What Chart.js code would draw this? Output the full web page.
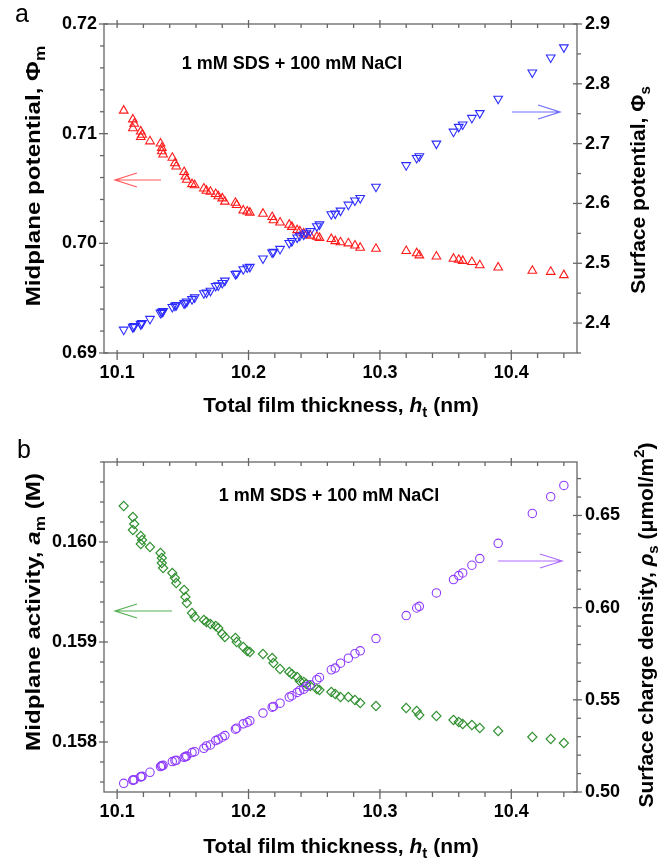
<!DOCTYPE html>
<html>
<head>
<meta charset="utf-8">
<script src="https://cdn.jsdelivr.net/npm/chart.js@4/dist/chart.umd.min.js"></script>
<style>
  body { margin: 0; background: #fff; }
  canvas { position: absolute; left: 0; }
</style>
</head>
<body>
<canvas id="chartA" width="672" height="420" style="top:0"></canvas>
<canvas id="chartB" width="672" height="438" style="top:420px"></canvas>
<script>
// film thickness h_t (nm), shared by both panels
const thickness = [10.105, 10.112, 10.113, 10.112, 10.118, 10.119, 10.118, 10.125, 10.133, 10.134,
  10.134, 10.135, 10.142, 10.144, 10.145, 10.151, 10.152, 10.153, 10.157, 10.159,
  10.166, 10.168, 10.171, 10.175, 10.177, 10.180, 10.182, 10.190, 10.191, 10.196,
  10.199, 10.201, 10.211, 10.218, 10.219, 10.224, 10.231, 10.233, 10.237, 10.239,
  10.242, 10.244, 10.247, 10.252, 10.254, 10.263, 10.266, 10.270, 10.276, 10.281,
  10.285, 10.297, 10.320, 10.328, 10.330, 10.343, 10.356, 10.360, 10.363, 10.370,
  10.376, 10.390, 10.416, 10.430, 10.440];

// panel a
const midplanePotential = [0.7121, 0.7113, 0.7109, 0.7105, 0.7102, 0.7099, 0.7097, 0.7093, 0.7091, 0.7087,
  0.7084, 0.7081, 0.7078, 0.7073, 0.7070, 0.7065, 0.7061, 0.7058, 0.7054, 0.7053,
  0.7050, 0.7048, 0.7047, 0.7045, 0.7043, 0.7041, 0.7038, 0.7037, 0.7035, 0.7030,
  0.7029, 0.7028, 0.7027, 0.7024, 0.7021, 0.7019, 0.7017, 0.7015, 0.7012, 0.7011,
  0.7009, 0.7008, 0.7007, 0.7006, 0.7005, 0.7004, 0.7002, 0.7001, 0.7000, 0.6998,
  0.6996, 0.6995, 0.6993, 0.6991, 0.6989, 0.6988, 0.6986, 0.6985, 0.6984, 0.6983,
  0.6980, 0.6978, 0.6975, 0.6974, 0.6971];
const surfacePotential = [2.389, 2.394, 2.395, 2.393, 2.399, 2.400, 2.398, 2.407, 2.417, 2.419,
  2.418, 2.420, 2.427, 2.429, 2.430, 2.433, 2.434, 2.436, 2.440, 2.443,
  2.450, 2.451, 2.454, 2.462, 2.463, 2.467, 2.471, 2.482, 2.483, 2.490,
  2.493, 2.494, 2.508, 2.518, 2.519, 2.524, 2.534, 2.537, 2.543, 2.546,
  2.548, 2.551, 2.554, 2.562, 2.565, 2.582, 2.583, 2.588, 2.598, 2.605,
  2.609, 2.628, 2.664, 2.676, 2.679, 2.700, 2.720, 2.728, 2.732, 2.743,
  2.751, 2.775, 2.819, 2.844, 2.861];

// panel b
const midplaneActivity = [0.16036, 0.16025, 0.16018, 0.16012, 0.16006, 0.16002, 0.15998, 0.15995, 0.15989, 0.15984,
  0.15979, 0.15974, 0.15969, 0.15964, 0.15959, 0.15952, 0.15945, 0.15939, 0.15929, 0.15925,
  0.15922, 0.15920, 0.15918, 0.15916, 0.15914, 0.15908, 0.15905, 0.15904, 0.15900, 0.15895,
  0.15891, 0.15890, 0.15888, 0.15884, 0.15879, 0.15873, 0.15870, 0.15868, 0.15865, 0.15861,
  0.15860, 0.15858, 0.15856, 0.15853, 0.15852, 0.15850, 0.15848, 0.15845, 0.15845, 0.15842,
  0.15839, 0.15836, 0.15834, 0.15831, 0.15827, 0.15826, 0.15822, 0.15820, 0.15818, 0.15817,
  0.15814, 0.15811, 0.15805, 0.15803, 0.15799];
const chargeDensity = [0.5047, 0.5065, 0.5066, 0.5064, 0.5083, 0.5085, 0.5082, 0.5107, 0.5138, 0.5143,
  0.5142, 0.5145, 0.5165, 0.5170, 0.5172, 0.5188, 0.5192, 0.5195, 0.5214, 0.5219,
  0.5237, 0.5250, 0.5255, 0.5279, 0.5286, 0.5297, 0.5306, 0.5341, 0.5346, 0.5370,
  0.5377, 0.5386, 0.5428, 0.5460, 0.5464, 0.5482, 0.5515, 0.5522, 0.5540, 0.5551,
  0.5558, 0.5572, 0.5582, 0.5609, 0.5621, 0.5663, 0.5672, 0.5699, 0.5726, 0.5750,
  0.5766, 0.5832, 0.5957, 0.5998, 0.6007, 0.6080, 0.6152, 0.6174, 0.6188, 0.6230,
  0.6266, 0.6349, 0.6511, 0.6602, 0.6663];

// tick labels
const thicknessTicks = [10.1, 10.2, 10.3, 10.4];
const potentialMTicks = [0.69, 0.70, 0.71, 0.72];
const potentialSTicks = [2.4, 2.5, 2.6, 2.7, 2.8, 2.9];
const activityTicks = [0.158, 0.159, 0.160];
const densityTicks = [0.50, 0.55, 0.60, 0.65];

const FONT = '"Liberation Sans", Arial, sans-serif';
Chart.defaults.font.family = FONT;
const AXIS = '#666';

function pts(xs, ys) {
  return xs.map((x, i) => ({ x: x, y: ys[i] }));
}

function axis(pos, min, max, values, digits, pad, fit) {
  return {
    type: 'linear', position: pos, min: min, max: max,
    afterBuildTicks: s => { s.ticks = values.map(v => ({ value: v })); },
    afterFit: fit,
    grid: { display: false, drawTicks: false },
    border: { display: false },
    ticks: {
      padding: pad, color: '#000', autoSkip: false, maxRotation: 0,
      font: { size: 18, weight: 'bold' },
      callback: v => v.toFixed(digits)
    }
  };
}

// text with sub/superscripts and italics, centred on (x, y)
function richText(ctx, runs, size, x, y, angle, stretch) {
  ctx.save();
  ctx.translate(x, y);
  ctx.rotate(angle);
  if (stretch) ctx.scale(stretch, 1);
  ctx.fillStyle = '#000';
  ctx.textBaseline = 'alphabetic';
  const fontOf = r => (r.italic ? 'italic ' : '') + 'bold ' +
    ((r.sub || r.sup) ? Math.round(size * 0.72) : size) + 'px ' + FONT;
  let w = 0;
  runs.forEach(r => { ctx.font = fontOf(r); w += ctx.measureText(r.t).width; });
  let cx = -w / 2;
  runs.forEach(r => {
    ctx.font = fontOf(r);
    const dy = r.sub ? size * 0.28 : (r.sup ? -size * 0.42 : 0);
    ctx.fillText(r.t, cx, size * 0.36 + dy);
    cx += ctx.measureText(r.t).width;
  });
  ctx.restore();
}

function arrow(ctx, x1, x2, y, color) {
  // x2 is the tip
  const dir = x2 > x1 ? 1 : -1;
  ctx.save();
  ctx.strokeStyle = color;
  ctx.lineWidth = 1.2;
  ctx.beginPath();
  ctx.moveTo(x1, y); ctx.lineTo(x2, y);
  ctx.moveTo(x2 - dir * 22, y - 7); ctx.lineTo(x2, y); ctx.lineTo(x2 - dir * 22, y + 7);
  ctx.stroke();
  ctx.restore();
}

function decoPlugin(d) {
  return {
    id: 'deco',
    afterDraw(chart) {
      const ctx = chart.ctx, a = chart.chartArea;
      ctx.save();
      ctx.strokeStyle = AXIS;
      ctx.lineWidth = 1.3;
      ctx.strokeRect(a.left, a.top, a.right - a.left, a.bottom - a.top);
      const line = (x1, y1, x2, y2) => { ctx.beginPath(); ctx.moveTo(x1, y1); ctx.lineTo(x2, y2); ctx.stroke(); };
      const minors = (s, step, majors) => {
        const out = [];
        const k0 = Math.ceil(s.min / step - 1e-6), k1 = Math.floor(s.max / step + 1e-6);
        for (let k = k0; k <= k1; k++) {
          const v = k * step;
          if (!majors.some(m => Math.abs(m - v) < step / 10)) out.push(v);
        }
        return out;
      };
      const sx = chart.scales.x, sy = chart.scales.y, sy2 = chart.scales.y2;
      d.xMajor.forEach(v => {
        const p = sx.getPixelForValue(v);
        line(p, a.bottom - 3, p, a.bottom + 7);
        line(p, a.top - 4, p, a.top + 4);
      });
      minors(sx, d.xStep, d.xMajor).forEach(v => {
        const p = sx.getPixelForValue(v);
        line(p, a.bottom, p, a.bottom + 5);
        line(p, a.top, p, a.top + 4);
      });
      d.yMajor.forEach(v => { const p = sy.getPixelForValue(v); line(a.left - 5, p, a.left + 4, p); });
      minors(sy, d.yStep, d.yMajor).forEach(v => { const p = sy.getPixelForValue(v); line(a.left - 4, p, a.left, p); });
      d.y2Major.forEach(v => { const p = sy2.getPixelForValue(v); line(a.right - 4, p, a.right + 5, p); });
      minors(sy2, d.y2Step, d.y2Major).forEach(v => { const p = sy2.getPixelForValue(v); line(a.right, p, a.right + 4, p); });
      ctx.restore();

      // panel letter
      ctx.save();
      ctx.fillStyle = '#000';
      ctx.font = '25px ' + FONT;
      ctx.fillText(d.letter, d.letterPos[0], d.letterPos[1]);
      ctx.restore();

      // condition label
      richText(ctx, [{ t: '1 mM SDS + 100 mM NaCl' }], 18, d.note[0], d.note[1], 0);

      // axis titles
      richText(ctx, [{ t: 'Total film thickness, ' }, { t: 'h', italic: true }, { t: 't', sub: true }, { t: ' (nm)' }],
        21, 341, d.xTitleY, 0);
      richText(ctx, d.leftTitle, 21, 32, d.leftTitleY, -Math.PI / 2, 1.15);
      richText(ctx, d.rightTitle, 21, d.rightTitleX, d.rightTitleY, -Math.PI / 2);

      d.arrows.forEach(ar => arrow(ctx, ar[0], ar[1], ar[2], ar[3]));
    }
  };
}

function scatterSet(data, axisId, style, rot, color, r) {
  return {
    data: data, yAxisID: axisId, showLine: false,
    pointStyle: style, rotation: rot, pointRadius: r, pointHoverRadius: r,
    borderColor: color, backgroundColor: 'rgba(0,0,0,0)', pointBorderWidth: 1.1
  };
}

function makeChart(id, padTop, xHeight, datasets, yAxis, y2Axis, deco) {
  return new Chart(document.getElementById(id), {
    type: 'scatter',
    data: { datasets: datasets },
    options: {
      responsive: false,
      animation: false,
      layout: { padding: { top: padTop, left: 0, right: 0, bottom: 0 } },
      plugins: { legend: { display: false }, tooltip: { enabled: false } },
      scales: {
        x: axis('bottom', 10.09, 10.45, thicknessTicks, 1, 9, s => { s.height = xHeight; }),
        y: yAxis,
        y2: y2Axis
      }
    },
    plugins: [decoPlugin(deco)]
  });
}

makeChart('chartA', 24, 67, [
    scatterSet(pts(thickness, surfacePotential), 'y2', 'triangle', 180, '#2b2bff', 5),
    scatterSet(pts(thickness, midplanePotential), 'y', 'triangle', 0, '#ff1a1a', 5)
  ],
  axis('left', 0.69, 0.72, potentialMTicks, 2, 7, s => { s.width = 104; }),
  axis('right', 2.35, 2.9, potentialSTicks, 1, 8, s => { s.width = 95; }),
  {
    xMajor: thicknessTicks, xStep: 0.02,
    yMajor: potentialMTicks, yStep: 0.002,
    y2Major: potentialSTicks, y2Step: 0.05,
    letter: 'a', letterPos: [15, 22],
    note: [292, 63],
    xTitleY: 404,
    leftTitle: [{ t: 'Midplane potential, Φ' }, { t: 'm', sub: true }], leftTitleY: 176,
    rightTitle: [{ t: 'Surface potential, Φ' }, { t: 's', sub: true }], rightTitleX: 637, rightTitleY: 190,
    arrows: [[161, 115, 180, '#ff5a5a'], [512, 560, 112, '#6b6bff']]
  });

makeChart('chartB', 42, 66, [
    scatterSet(pts(thickness, chargeDensity), 'y2', 'circle', 0, '#8f3bff', 4.2),
    scatterSet(pts(thickness, midplaneActivity), 'y', 'rectRot', 0, '#2f8f2f', 4.6)
  ],
  axis('left', 0.1575, 0.1608, activityTicks, 3, 7, s => { s.width = 104; }),
  axis('right', 0.50, 0.679, densityTicks, 2, 8, s => { s.width = 95; }),
  {
    xMajor: thicknessTicks, xStep: 0.02,
    yMajor: activityTicks, yStep: 0.0002,
    y2Major: densityTicks, y2Step: 0.01,
    letter: 'b', letterPos: [17, 38],
    note: [329, 75],
    xTitleY: 425,
    leftTitle: [{ t: 'Midplane activity, ' }, { t: 'a', italic: true }, { t: 'm', sub: true }, { t: ' (M)' }], leftTitleY: 192,
    rightTitle: [{ t: 'Surface charge density, ' }, { t: 'ρ', italic: true }, { t: 's', sub: true }, { t: ' (μmol/m' }, { t: '2', sup: true }, { t: ')' }],
    rightTitleX: 645, rightTitleY: 205,
    arrows: [[172, 115, 191, '#55b055'], [498, 562, 141, '#ad6bff']]
  });
</script>
</body>
</html>
